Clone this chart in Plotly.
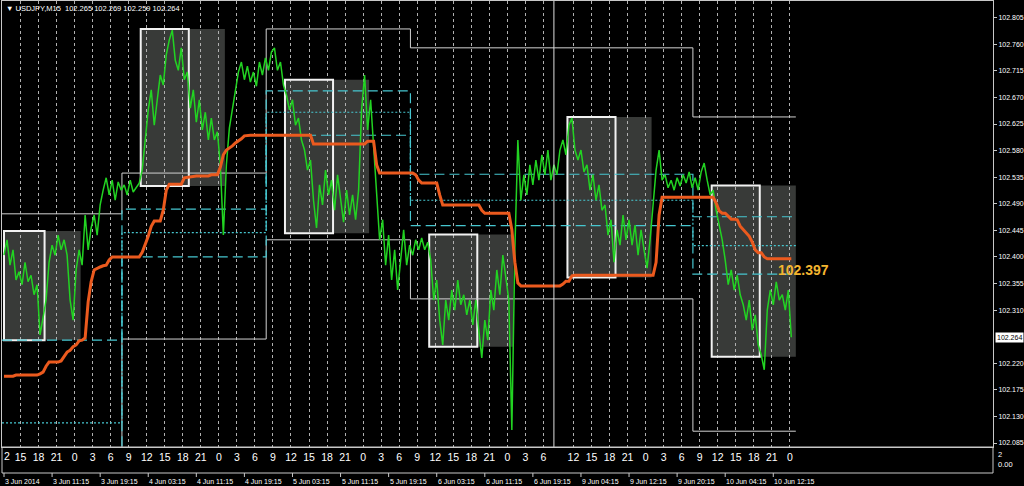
import plotly.graph_objects as go

# ---------------- data ----------------
symbol = "USDJPY,M15"
ohlc = [102.265, 102.269, 102.259, 102.264]
current_price = 102.264

# close price sampled every 2 bars (M15), bar 0 = 3 Jun 2014 03:15
bar_step = 2
close = [
    102.403, 102.429, 102.386, 102.412, 102.361, 102.375, 102.353, 102.391, 102.358, 102.369,
    102.336, 102.353, 102.268, 102.297, 102.327, 102.391, 102.420, 102.403, 102.437, 102.412,
    102.429, 102.403, 102.327, 102.293, 102.378, 102.412, 102.386, 102.471, 102.412, 102.449,
    102.471, 102.437, 102.488, 102.513, 102.534, 102.505, 102.530, 102.496, 102.527, 102.513,
    102.522, 102.505, 102.530, 102.510, 102.517, 102.525, 102.547, 102.598, 102.649, 102.683,
    102.623, 102.666, 102.708, 102.691, 102.742, 102.767, 102.784, 102.733, 102.716, 102.754,
    102.700, 102.713, 102.652, 102.683, 102.628, 102.666, 102.615, 102.645, 102.598, 102.635,
    102.598, 102.612, 102.556, 102.437, 102.556, 102.618, 102.652, 102.686, 102.713, 102.730,
    102.700, 102.723, 102.696, 102.713, 102.689, 102.730, 102.708, 102.737, 102.716, 102.747,
    102.754, 102.716, 102.730, 102.691, 102.674, 102.649, 102.666, 102.623, 102.635, 102.598,
    102.581, 102.547, 102.564, 102.496, 102.449, 102.522, 102.488, 102.547, 102.505, 102.530,
    102.479, 102.539, 102.496, 102.459, 102.513, 102.471, 102.505, 102.463, 102.513, 102.649,
    102.708, 102.615, 102.666, 102.581, 102.496, 102.429, 102.463, 102.386, 102.437, 102.361,
    102.412, 102.344, 102.395, 102.446, 102.386, 102.420, 102.403, 102.429, 102.412, 102.432,
    102.412, 102.425, 102.395, 102.327, 102.361, 102.293, 102.251, 102.327, 102.293, 102.344,
    102.310, 102.361, 102.319, 102.336, 102.302, 102.327, 102.285, 102.327, 102.276, 102.229,
    102.293, 102.259, 102.344, 102.310, 102.378, 102.336, 102.403, 102.361, 102.327, 102.107,
    102.412, 102.598, 102.496, 102.539, 102.505, 102.556, 102.522, 102.564, 102.530, 102.573,
    102.539, 102.581, 102.530, 102.556, 102.539, 102.581, 102.598, 102.573, 102.623, 102.635,
    102.581, 102.564, 102.581, 102.544, 102.556, 102.513, 102.539, 102.496, 102.522, 102.479,
    102.488, 102.437, 102.463, 102.391, 102.446, 102.420, 102.471, 102.429, 102.463, 102.420,
    102.454, 102.403, 102.446, 102.412, 102.381, 102.429, 102.496, 102.547, 102.581, 102.530,
    102.539, 102.517, 102.530, 102.513, 102.534, 102.520, 102.539, 102.525, 102.544, 102.517,
    102.534, 102.513, 102.544, 102.559, 102.530, 102.505, 102.513, 102.479, 102.454, 102.429,
    102.395, 102.353, 102.378, 102.344, 102.369, 102.336, 102.319, 102.293, 102.327, 102.276,
    102.302, 102.251, 102.234, 102.209, 102.310, 102.344, 102.319, 102.358, 102.327, 102.336,
    102.310, 102.344, 102.264,
]

# stepped orange indicator, same sampling
signal = [
    102.198, 102.198, 102.198, 102.198, 102.200, 102.200, 102.200, 102.200, 102.200, 102.200,
    102.200, 102.200, 102.202, 102.205, 102.215, 102.222, 102.222, 102.222, 102.222, 102.224,
    102.231, 102.239, 102.242, 102.248, 102.251, 102.258, 102.259, 102.263, 102.324, 102.358,
    102.378, 102.381, 102.383, 102.385, 102.386, 102.395, 102.400, 102.400, 102.400, 102.400,
    102.400, 102.400, 102.400, 102.400, 102.400, 102.400, 102.408, 102.420, 102.435, 102.452,
    102.461, 102.461, 102.461, 102.479, 102.513, 102.523, 102.523, 102.523, 102.523, 102.523,
    102.534, 102.535, 102.535, 102.537, 102.537, 102.537, 102.537, 102.537, 102.537, 102.539,
    102.539, 102.539, 102.552, 102.573, 102.581, 102.584, 102.588, 102.593, 102.596, 102.600,
    102.605, 102.606, 102.606, 102.606, 102.606, 102.606, 102.606, 102.606, 102.606, 102.606,
    102.606, 102.606, 102.606, 102.606, 102.606, 102.606, 102.606, 102.606, 102.606, 102.606,
    102.606, 102.606, 102.606, 102.591, 102.591, 102.591, 102.591, 102.591, 102.591, 102.591,
    102.591, 102.591, 102.591, 102.591, 102.591, 102.591, 102.591, 102.591, 102.591, 102.591,
    102.591, 102.596, 102.596, 102.596, 102.556, 102.542, 102.542, 102.542, 102.542, 102.542,
    102.542, 102.542, 102.542, 102.542, 102.542, 102.542, 102.542, 102.539, 102.530, 102.525,
    102.525, 102.525, 102.525, 102.525, 102.525, 102.505, 102.488, 102.488, 102.488, 102.488,
    102.488, 102.488, 102.488, 102.488, 102.488, 102.488, 102.488, 102.488, 102.488, 102.479,
    102.474, 102.474, 102.474, 102.474, 102.474, 102.474, 102.474, 102.474, 102.474, 102.446,
    102.391, 102.356, 102.351, 102.351, 102.351, 102.351, 102.351, 102.351, 102.351, 102.351,
    102.351, 102.351, 102.351, 102.351, 102.351, 102.351, 102.354, 102.359, 102.359, 102.368,
    102.369, 102.369, 102.369, 102.369, 102.369, 102.369, 102.369, 102.369, 102.369, 102.369,
    102.369, 102.369, 102.369, 102.369, 102.369, 102.369, 102.369, 102.369, 102.369, 102.369,
    102.369, 102.369, 102.369, 102.369, 102.369, 102.369, 102.369, 102.391, 102.471, 102.501,
    102.501, 102.501, 102.501, 102.501, 102.501, 102.501, 102.501, 102.501, 102.501, 102.501,
    102.501, 102.501, 102.501, 102.501, 102.501, 102.501, 102.501, 102.491, 102.478, 102.474,
    102.474, 102.469, 102.464, 102.464, 102.463, 102.452, 102.446, 102.441, 102.435, 102.425,
    102.412, 102.407, 102.407, 102.400, 102.397, 102.397, 102.397, 102.397, 102.397, 102.397,
    102.397, 102.397, 102.397,
]

# daily levels (day starts at 23:00 server time)
day_start_bar = [0, 79, 175, 271, 367, 459]
prev_high = [102.473, 102.542, 102.786, 102.754, 102.754, 102.637]
prev_low = [102.020, 102.261, 102.429, 102.329, 102.329, 102.105]
level_upper = [102.259, 102.481, 102.681, 102.540, 102.540, 102.468]
level_mid = [102.119, 102.441, 102.645, 102.496, 102.496, 102.419]
level_lower = [101.978, 102.400, 102.606, 102.453, 102.453, 102.371]
last_bar = 527

# Tokyo session boxes
session_start_bar = [-5, 91, 187, 283, 375, 471]
session_high = [102.444, 102.786, 102.700, 102.438, 102.637, 102.521]
session_low = [102.259, 102.520, 102.440, 102.248, 102.365, 102.231]
session_core_bars = 32
session_total_bars = 56

# axis labels
price_ticks = [102.805, 102.760, 102.715, 102.670, 102.625, 102.580, 102.535, 102.490,
               102.445, 102.400, 102.355, 102.310, 102.220, 102.175, 102.130, 102.085]
date_labels = ["3 Jun 2014", "3 Jun 11:15", "3 Jun 19:15", "4 Jun 03:15", "4 Jun 11:15",
               "4 Jun 19:15", "5 Jun 03:15", "5 Jun 11:15", "5 Jun 19:15", "6 Jun 03:15",
               "6 Jun 11:15", "6 Jun 19:15", "9 Jun 04:15", "9 Jun 12:15", "9 Jun 20:15",
               "10 Jun 04:15", "10 Jun 12:15"]
date_label_step = 32
hour_labels = ["15", "18", "21", "0", "3", "6", "9", "12", "15", "18", "21", "0", "3", "6", "9",
               "12", "15", "18", "21", "0", "3", "6", "9", "12", "15", "18", "21", "0", "3", "6",
               "12", "15", "18", "21", "0", "3", "6", "9", "12", "15", "18", "21", "0"]
hour_first_bar = [11, 379]
hour_count_week1 = 30
hour_step = 12
sub_labels = ["2", "0.00"]

# ---------------- layout geometry ----------------
W, H = 1024, 486
def fx(px):
    return px / W
def fy(py):
    return 1 - py / H

PLOT_L, PLOT_R, PLOT_T, PLOT_B = 2, 993, 1, 447
BAR_PX, BAR0_PX = 1.5025, 4.0
P_AT_0, P_PER_PX = 102.835, 0.001693
x_range = [(PLOT_L - BAR0_PX) / BAR_PX, (PLOT_R - BAR0_PX) / BAR_PX]
y_range = [P_AT_0 - PLOT_B * P_PER_PX, P_AT_0 - PLOT_T * P_PER_PX]

FONT = "Liberation Sans, Arial, sans-serif"
WHITE_LINE = "#d2d2d2"
CYAN = "#46c6cf"
FRAME = "#c8c8c8"

fig = go.Figure()

# daily step lines
xs = [x_range[0]] + [s - 0.5 for s in day_start_bar[1:]] + [last_bar]
def step_trace(vals, color, dash, width=1):
    fig.add_trace(go.Scatter(x=xs, y=vals + [vals[-1]], mode="lines", line_shape="hv",
                             line=dict(color=color, width=width, dash=dash),
                             hoverinfo="skip", showlegend=False))

step_trace(prev_high, WHITE_LINE, "solid")
step_trace(prev_low, WHITE_LINE, "solid")
step_trace(level_upper, CYAN, "10px,5px", 1.2)
step_trace(level_mid, CYAN, "2px,2px", 1.2)
step_trace(level_lower, CYAN, "10px,5px", 1.2)

bars = [i * bar_step for i in range(len(close))]
fig.add_trace(go.Scatter(x=bars, y=close, mode="lines", line=dict(color="#22d322", width=1.5),
                         hoverinfo="skip", showlegend=False))
fig.add_trace(go.Scatter(x=bars, y=signal, mode="lines", line=dict(color="#eb5a1e", width=3),
                         hoverinfo="skip", showlegend=False))

shapes = []
for s, hi, lo in zip(session_start_bar, session_high, session_low):
    x0 = max(s, 0)
    shapes.append(dict(type="rect", xref="x", yref="y", x0=x0, x1=s + session_total_bars,
                       y0=lo, y1=hi, fillcolor="#383a38", line=dict(width=0), layer="below"))
    shapes.append(dict(type="rect", xref="x", yref="y", x0=x0, x1=s + session_core_bars,
                       y0=lo, y1=hi, fillcolor="rgba(0,0,0,0)",
                       line=dict(color="#f2f2f2", width=2), layer="between"))

# week separator
sep = day_start_bar[4] - 1
shapes.append(dict(type="line", xref="x", yref="paper", x0=sep, x1=sep,
                   y0=fy(PLOT_B), y1=fy(PLOT_T), line=dict(color="#e0e0e0", width=1)))

# sub-window frame
shapes.append(dict(type="rect", xref="paper", yref="paper", x0=fx(PLOT_L), x1=fx(PLOT_R),
                   y0=fy(473), y1=fy(PLOT_B), line=dict(color=FRAME, width=1)))

annotations = []
date_bars = [i * date_label_step for i in range(len(date_labels))]
for b, t in zip(date_bars, date_labels):
    shapes.append(dict(type="line", xref="x", yref="paper", x0=b, x1=b, y0=fy(473), y1=fy(477),
                       line=dict(color=FRAME, width=1)))
    annotations.append(dict(x=b, xref="x", y=fy(481.5), yref="paper", text=t, showarrow=False,
                            xanchor="left", yanchor="middle", xshift=-1,
                            font=dict(family=FONT, size=7, color="white")))

hour_bars = ([hour_first_bar[0] + hour_step * k for k in range(hour_count_week1)] +
             [hour_first_bar[1] + hour_step * k for k in range(len(hour_labels) - hour_count_week1)])

# title
annotations.append(dict(x=fx(4), y=fy(9), xref="paper", yref="paper", showarrow=False,
                        xanchor="left", yanchor="middle",
                        text="\u25bc " + symbol + "  " + " ".join(f"{v:.3f}" for v in ohlc),
                        font=dict(family=FONT, size=7.5, color="white")))
# cut hour label at left edge
annotations.append(dict(x=fx(2), y=fy(455.5), xref="paper", yref="paper", showarrow=False,
                        xanchor="left", yanchor="middle", text="2",
                        font=dict(family=FONT, size=10.5, color="white")))
# current price box
annotations.append(dict(x=fx(995), y=current_price, xref="paper", yref="y", showarrow=False,
                        xanchor="left", yanchor="middle", text=f"{current_price:.3f}",
                        bgcolor="white", borderpad=1,
                        font=dict(family=FONT, size=7, color="black")))
# last indicator value
annotations.append(dict(x=bars[-1], y=signal[-1], xref="x", yref="y", showarrow=False,
                        xanchor="left", yanchor="top", xshift=-15, yshift=-1,
                        text=f"<b>{signal[-1]:.3f}</b>",
                        font=dict(family=FONT, size=14, color="#f3b530")))
# sub-window scale
for t, py in zip(sub_labels, [454, 464.5]):
    annotations.append(dict(x=fx(996), y=fy(py), xref="paper", yref="paper", showarrow=False,
                            xanchor="left", yanchor="middle", text=t,
                            font=dict(family=FONT, size=7.5, color="white")))

fig.update_layout(
    width=W, height=H, autosize=False,
    margin=dict(l=0, r=0, t=0, b=0),
    paper_bgcolor="black", plot_bgcolor="black",
    showlegend=False,
    shapes=shapes, annotations=annotations,
    xaxis=dict(domain=[fx(PLOT_L), fx(PLOT_R)], range=x_range, tickmode="array",
               tickvals=hour_bars, ticktext=hour_labels, ticks="",
               tickfont=dict(family=FONT, size=10.5, color="white"),
               showgrid=True, griddash="dot", gridcolor="#b0b0b0", gridwidth=1,
               zeroline=False, showline=True, mirror=True, linecolor=FRAME, linewidth=1),
    yaxis=dict(domain=[fy(PLOT_B), fy(PLOT_T)], range=y_range, side="right",
               tickmode="array", tickvals=price_ticks, tickformat=".3f",
               ticks="outside", ticklen=3, tickcolor=FRAME,
               tickfont=dict(family=FONT, size=7, color="white"),
               showgrid=False, zeroline=False, showline=True, mirror=True,
               linecolor=FRAME, linewidth=1),
)

fig.write_html("out.html", config={"displayModeBar": False},
               post_script="document.body.style.margin='0';document.body.style.overflow='hidden';")
